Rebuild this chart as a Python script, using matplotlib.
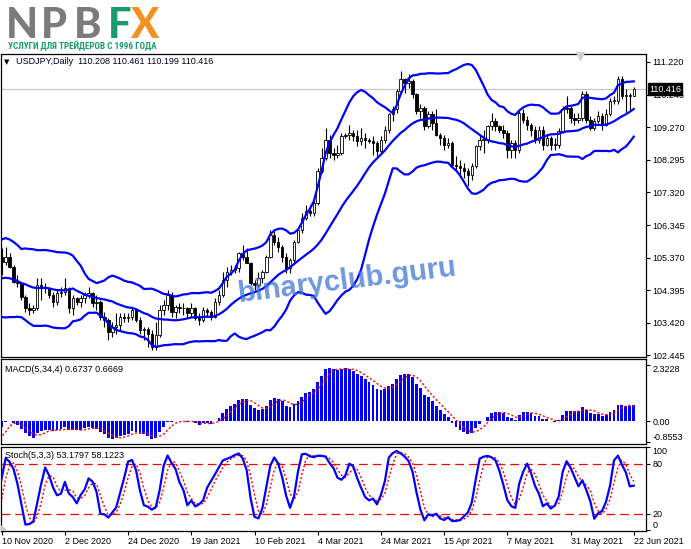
import numpy as np
import pandas as pd
import matplotlib
matplotlib.use("Agg")
import matplotlib.pyplot as plt
from matplotlib import font_manager as fm

plt.rcParams["font.family"] = ["Liberation Sans", "DejaVu Sans"]

W, H = 691, 549

# --- price history before the visible window (14 Sep - 9 Nov 2020), only for indicator warm-up ---
pre_close = [105.70, 105.45, 104.95, 104.75, 104.55, 104.65, 104.95, 105.40, 105.40, 105.60,
             105.50, 105.70, 105.55, 105.50, 105.30, 105.70, 105.65, 106.00, 106.00, 105.60,
             105.35, 105.45, 105.10, 105.40, 105.40, 105.45, 105.50, 104.55, 104.90, 104.70,
             104.85, 104.45, 104.30, 104.60, 104.65, 104.70, 104.50, 104.50, 103.50, 103.35,
             105.40]
pre_high = [106.10, 105.80, 105.50, 105.00, 104.85, 104.80, 105.00, 105.45, 105.50, 105.70,
            105.70, 105.80, 105.80, 105.70, 105.70, 105.80, 105.80, 106.10, 106.10, 106.00,
            105.60, 105.50, 105.50, 105.45, 105.50, 105.55, 105.75, 105.50, 104.95, 105.00,
            104.90, 104.85, 104.55, 104.70, 104.85, 104.80, 104.85, 105.30, 104.55, 103.75,
            105.65]
pre_low = [105.60, 105.30, 104.80, 104.55, 104.30, 104.00, 104.50, 104.85, 105.20, 105.30,
           105.35, 105.35, 105.40, 105.40, 104.95, 105.20, 105.50, 105.60, 105.90, 105.50,
           105.30, 105.25, 105.00, 105.00, 105.25, 105.30, 105.40, 104.50, 104.45, 104.60,
           104.60, 104.40, 104.10, 104.30, 104.45, 104.50, 104.40, 104.10, 103.45, 103.20,
           103.20]

# --- USDJPY daily, 10 Nov 2020 - 22 Jun 2021 ---
opens = [105.40, 105.25, 105.40, 105.10, 104.65, 104.60, 104.20, 103.85, 103.80, 103.85,
         104.55, 104.45, 104.45, 104.25, 104.05, 104.30, 104.35, 104.45, 103.85, 104.15,
         104.05, 104.15, 104.25, 104.30, 104.00, 104.05, 103.60, 103.50, 103.15, 103.30,
         103.35, 103.60, 103.55, 103.60, 103.80, 103.50, 103.20, 103.25, 103.10, 102.70,
         103.05, 103.80, 103.95, 104.25, 103.75, 103.90, 103.85, 103.85, 103.70, 103.85,
         103.55, 103.50, 103.80, 103.75, 103.60, 104.05, 104.25, 104.70, 104.95, 105.00,
         105.05, 105.50, 105.40, 105.20, 104.60, 104.55, 104.75, 104.95, 105.40, 106.05,
         105.85, 105.70, 105.40, 105.05, 105.30, 105.85, 106.20, 106.55, 106.75, 106.70,
         107.00, 107.95, 108.35, 108.90, 108.50, 108.45, 108.50, 109.00, 109.05, 109.10,
         109.00, 108.85, 108.95, 108.90, 108.85, 108.80, 108.55, 108.90, 109.20, 109.65,
         109.80, 110.35, 110.70, 110.60, 110.65, 110.25, 109.75, 109.85, 109.30, 109.65,
         109.40, 109.05, 108.95, 108.75, 108.80, 108.15, 108.10, 108.05, 107.95, 107.85,
         108.10, 108.70, 108.90, 108.90, 109.30, 109.45, 109.30, 109.20, 109.10, 108.60,
         108.80, 108.60, 109.70, 109.50, 109.35, 109.20, 108.90, 109.20, 108.75, 108.95,
         108.75, 108.75, 109.15, 109.80, 109.85, 109.55, 109.50, 109.55, 110.25, 109.50,
         109.25, 109.45, 109.60, 109.35, 109.65, 110.05, 110.05, 110.70, 110.20, 110.20,
         110.208]
highs = [105.65, 105.70, 105.50, 105.15, 104.85, 104.65, 104.25, 104.00, 103.95, 104.75,
         104.75, 104.60, 104.50, 104.35, 104.40, 104.50, 104.75, 104.50, 104.25, 104.20,
         104.25, 104.35, 104.50, 104.35, 104.25, 104.10, 103.75, 103.55, 103.45, 103.70,
         103.70, 103.70, 103.70, 103.90, 103.85, 103.60, 103.30, 103.30, 103.20, 103.45,
         103.95, 104.10, 104.40, 104.35, 103.95, 104.00, 104.00, 103.90, 104.00, 103.90,
         103.70, 103.90, 103.85, 103.80, 104.15, 104.40, 104.95, 105.10, 105.15, 105.15,
         105.55, 105.75, 105.65, 105.25, 104.70, 104.95, 105.00, 105.45, 106.20, 106.20,
         106.00, 105.75, 105.50, 105.35, 105.90, 106.25, 106.70, 106.95, 106.95, 107.15,
         108.05, 108.65, 109.25, 109.05, 108.65, 108.75, 109.10, 109.10, 109.35, 109.20,
         109.20, 109.25, 109.10, 108.95, 109.00, 108.85, 109.00, 109.30, 109.70, 109.90,
         110.40, 110.95, 110.75, 110.85, 110.70, 110.30, 109.95, 109.90, 109.75, 109.75,
         109.80, 109.10, 109.05, 108.95, 108.85, 108.40, 108.30, 108.20, 108.05, 108.20,
         108.75, 109.05, 109.20, 109.35, 109.70, 109.55, 109.35, 109.35, 109.20, 108.90,
         108.90, 109.80, 109.80, 109.60, 109.40, 109.30, 109.30, 109.30, 109.05, 109.00,
         108.95, 109.25, 109.90, 110.20, 109.90, 109.70, 109.70, 110.35, 110.35, 109.60,
         109.55, 109.75, 109.70, 109.80, 110.15, 110.20, 110.80, 110.80, 110.40, 110.30,
         110.461]
lows = [104.85, 105.15, 105.05, 104.60, 104.50, 104.10, 103.75, 103.65, 103.70, 103.80,
        104.10, 104.30, 104.15, 103.90, 103.95, 104.20, 104.25, 103.70, 103.65, 103.95,
        103.90, 104.00, 104.15, 103.90, 103.80, 103.50, 103.30, 102.90, 103.00, 103.10,
        103.20, 103.45, 103.45, 103.50, 103.45, 103.10, 102.90, 102.70, 102.60, 102.60,
        103.00, 103.65, 103.80, 103.60, 103.55, 103.70, 103.65, 103.55, 103.60, 103.50,
        103.35, 103.45, 103.60, 103.50, 103.55, 103.95, 104.20, 104.50, 104.85, 104.90,
        104.95, 105.30, 105.20, 104.55, 104.40, 104.50, 104.60, 104.90, 105.35, 105.75,
        105.55, 105.25, 104.90, 104.90, 105.20, 105.80, 106.10, 106.50, 106.60, 106.60,
        106.95, 107.90, 108.30, 108.35, 108.30, 108.35, 108.45, 108.95, 108.90, 108.85,
        108.70, 108.75, 108.65, 108.80, 108.45, 108.40, 108.50, 108.80, 109.10, 109.45,
        109.70, 110.25, 110.30, 110.45, 110.15, 109.65, 109.55, 109.20, 109.25, 109.20,
        109.00, 108.75, 108.60, 108.65, 108.05, 107.95, 107.80, 107.75, 107.50, 107.70,
        108.05, 108.60, 108.50, 108.80, 109.20, 109.15, 109.10, 108.95, 108.35, 108.35,
        108.35, 108.50, 109.40, 109.20, 109.00, 108.80, 108.80, 108.60, 108.70, 108.60,
        108.60, 108.65, 109.10, 109.70, 109.40, 109.35, 109.40, 109.45, 109.40, 109.20,
        109.20, 109.40, 109.20, 109.30, 109.60, 109.95, 109.95, 110.10, 109.70, 109.75,
        110.199]
closes = [105.25, 105.40, 105.10, 104.65, 104.60, 104.20, 103.85, 103.80, 103.85, 104.55,
          104.45, 104.45, 104.25, 104.05, 104.30, 104.35, 104.45, 103.85, 104.15, 104.05,
          104.15, 104.25, 104.30, 104.00, 104.05, 103.60, 103.50, 103.15, 103.30, 103.35,
          103.60, 103.55, 103.60, 103.80, 103.50, 103.20, 103.25, 103.10, 102.70, 103.05,
          103.80, 103.95, 104.25, 103.75, 103.90, 103.85, 103.85, 103.70, 103.85, 103.55,
          103.50, 103.80, 103.75, 103.60, 104.05, 104.25, 104.70, 104.95, 105.00, 105.05,
          105.50, 105.40, 105.20, 104.60, 104.55, 104.75, 104.95, 105.40, 106.05, 105.85,
          105.70, 105.40, 105.05, 105.30, 105.85, 106.20, 106.55, 106.75, 106.70, 107.00,
          107.95, 108.35, 108.90, 108.50, 108.45, 108.50, 109.00, 109.05, 109.10, 109.00,
          108.85, 108.95, 108.90, 108.85, 108.80, 108.55, 108.90, 109.20, 109.65, 109.80,
          110.35, 110.70, 110.60, 110.65, 110.25, 109.75, 109.85, 109.30, 109.65, 109.40,
          109.05, 108.95, 108.75, 108.80, 108.15, 108.10, 108.05, 107.95, 107.85, 108.10,
          108.70, 108.90, 108.90, 109.30, 109.45, 109.30, 109.20, 109.10, 108.60, 108.80,
          108.60, 109.70, 109.50, 109.35, 109.20, 108.90, 109.20, 108.75, 108.95, 108.75,
          108.75, 109.15, 109.80, 109.85, 109.55, 109.50, 109.55, 110.25, 109.50, 109.25,
          109.45, 109.60, 109.35, 109.65, 110.05, 110.05, 110.70, 110.20, 110.20, 110.21,
          110.416]

date_ticks = [0, 16, 32, 48, 64, 80, 96, 112, 128, 144, 160]
date_labels = ["10 Nov 2020", "2 Dec 2020", "24 Dec 2020", "19 Jan 2021", "10 Feb 2021",
               "4 Mar 2021", "24 Mar 2021", "15 Apr 2021", "7 May 2021", "31 May 2021",
               "22 Jun 2021"]
price_ticks = [102.445, 103.420, 104.395, 105.370, 106.345, 107.320, 108.295, 109.270,
               110.245, 111.220]
last_price = 110.416
macd_range = [2.3228, 0.0, -0.8553]
macd_last = (0.6737, 0.6669)
stoch_last = (53.1797, 58.1223)

# --- indicators, computed from history + visible bars ---
n_pre = len(pre_close)
c_all = pd.Series(pre_close + closes)
h_all = pd.Series(pre_high + highs)
l_all = pd.Series(pre_low + lows)
x_all = np.arange(len(c_all)) - n_pre

bb_mid = c_all.rolling(20).mean()
bb_sd = c_all.rolling(20).std(ddof=0)
bb_up, bb_dn = bb_mid + 2 * bb_sd, bb_mid - 2 * bb_sd

macd = c_all.ewm(span=5, adjust=False).mean() - c_all.ewm(span=34, adjust=False).mean()
macd_sig = macd.rolling(4).mean()

ll = l_all.rolling(5).min()
hh = h_all.rolling(5).max()
st_main = 100 * (c_all - ll).rolling(3).sum() / (hh - ll).rolling(3).sum()
st_sig = st_main.rolling(3).mean()

vis = x_all >= -1

# --- figure, panels placed in pixels ---
fig = plt.figure(figsize=(W / 100, H / 100), dpi=100)


def px_axes(x0, y0, x1, y1):
    return fig.add_axes([x0 / W, 1 - y1 / H, (x1 - x0) / W, (y1 - y0) / H])


def ftext(x, y, s, **kw):
    return fig.text(x / W, 1 - y / H, s, **kw)


ax = px_axes(0.5, 53.5, 646, 357)
axm = px_axes(0.5, 359, 646, 444)
axs = px_axes(0.5, 447, 646, 530.5)

for a in (ax, axm, axs):
    a.set_xlim(-0.30, 163.1)
    for sp in a.spines.values():
        sp.set_linewidth(0.9)
        sp.set_color("black")
    a.yaxis.tick_right()
    a.tick_params(axis="y", direction="out", length=3, width=0.8, pad=1.5,
                  labelsize=6.5, left=False)
    a.tick_params(axis="x", bottom=False, labelbottom=False)

# main price panel
ax.set_ylim(102.398, 111.474)
x = np.arange(len(closes))
o, h, l, c = map(np.array, (opens, highs, lows, closes))
ax.axhline(last_price, color="#c8c8c8", lw=0.9, zorder=1)
ax.vlines(x, l, h, color="black", lw=0.8, zorder=2)
up = c >= o
body_lo = np.minimum(o, c)
body_h = np.maximum(np.abs(c - o), 0.025)
ax.bar(x[up], body_h[up], bottom=body_lo[up], width=0.62, facecolor="white",
       edgecolor="black", lw=0.6, zorder=3)
ax.bar(x[~up], body_h[~up], bottom=body_lo[~up], width=0.62, facecolor="black",
       edgecolor="black", lw=0.6, zorder=3)
for band in (bb_up, bb_mid, bb_dn):
    ax.plot(x_all[vis], band[vis], color="#0000ff", lw=1.6, zorder=4)
ax.set_yticks(price_ticks)
ax.set_yticklabels([f"{p:.3f}" for p in price_ticks])
ax.plot([146.4], [111.40], marker="v", ms=6, color="#cfcfcf", mec="#cfcfcf", zorder=5,
        clip_on=False)

ax.text((347 - 0.5) / 645.5, (357 - 281) / 303.5, "binaryclub.guru", transform=ax.transAxes,
        ha="center", va="center", rotation=7, fontsize=21, fontweight="bold",
        color="#3f74d4", alpha=0.75, zorder=6)

# MACD panel
axm.set_ylim(-0.926, 2.572)
axm.bar(x_all[vis], macd[vis], width=0.72, color="#0000ff", zorder=2)
axm.plot(x_all[vis], macd_sig[vis], color="red", lw=1.0, ls=(0, (1.5, 1.5)), zorder=3)
axm.set_yticks(macd_range)
axm.set_yticklabels(["2.3228", "0.00", "-0.8553"])
mlabels = axm.get_yticklabels()
mlabels[0].set_va("top")
mlabels[2].set_va("bottom")

# Stochastic panel
axs.set_ylim(-0.6, 100.6)
axs.axhline(80, color="red", lw=0.9, ls=(0, (7, 4)), zorder=1)
axs.axhline(20, color="red", lw=0.9, ls=(0, (7, 4)), zorder=1)
axs.plot(x_all[vis], st_main[vis], color="#0000ff", lw=1.6, zorder=3)
axs.plot(x_all[vis], st_sig[vis], color="red", lw=1.0, ls=(0, (1.5, 1.5)), zorder=2)
axs.set_yticks([100, 80, 20, 0])
axs.set_yticklabels(["100", "80", "20", "0"])
slabels = axs.get_yticklabels()
slabels[0].set_va("top")
slabels[3].set_va("bottom")
axs.set_xticks(date_ticks)
axs.set_xticklabels(date_labels)
axs.tick_params(axis="x", bottom=True, labelbottom=True, direction="out", length=3,
                width=0.8, pad=2, labelsize=6.5)
for lbl in axs.get_xticklabels():
    lbl.set_ha("left")
axs.fill([-0.3, 1.2, -0.3], [-0.6, -0.6, 5.5], color="#c8c8c8", zorder=4)

# texts in the panels
ftext(4, 62, "\u25bc", fontsize=5, va="center", family="DejaVu Sans")
ftext(16, 62, "USDJPY,Daily  %.3f %.3f %.3f %.3f" % (opens[-1], highs[-1], lows[-1], closes[-1]),
      fontsize=6.5, va="center", color="#000020")
ftext(5, 369, "MACD(5,34,4) %.4f %.4f" % macd_last, fontsize=6.5, va="center")
ftext(5, 455, "Stoch(5,3,3) %.4f %.4f" % stoch_last, fontsize=6.5, va="center")
ftext(649, 89, "%.3f" % last_price, fontsize=6.5, va="center", color="white",
      bbox=dict(boxstyle="square,pad=0.15", fc="black", ec="black"))

# logo, one letter at a time (heavy weight, X laid over the right edge of F)
logo = [("N", 6, "#7b7b7b"), ("P", 41, "#7b7b7b"), ("B", 74, "#7b7b7b"),
        ("F", 108, "#1a9b6c"), ("X", 130, "#f39120")]
for ch, lx, col in logo:
    ftext(lx, 38, ch, fontsize=30, fontweight="black", color=col, va="baseline",
          family=["Lato", "DejaVu Sans"])

names = {f.name for f in fm.fontManager.ttflist}
sub_family = [n for n in ("Liberation Sans Narrow", "Roboto Condensed", "Open Sans Condensed")
              if n in names] + ["DejaVu Sans"]
sub = ftext(8, 46, "УСЛУГИ ДЛЯ ТРЕЙДЕРОВ С 1996 ГОДА", fontsize=7, fontweight="bold",
            color="#1a9b6c", va="center", family=sub_family, fontstretch="condensed")
fig.canvas.draw()
sub.set_fontsize(7 * 150 / sub.get_window_extent().width)

fig.savefig("out.png", dpi=100)
